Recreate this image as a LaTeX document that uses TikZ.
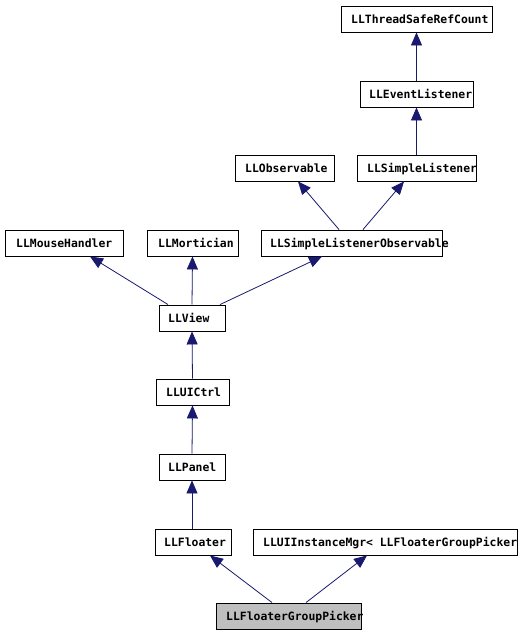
\documentclass[tikz,border=0pt]{standalone}
\usepackage{fontspec}
\newfontfamily\dxfont{DejaVu Sans Mono}
\usetikzlibrary{arrows.meta}
\definecolor{edgeblue}{HTML}{191970}
\definecolor{curgray}{HTML}{BFBFBF}
\begin{document}
\begin{tikzpicture}[x=1pt,y=-1pt,
  cls/.style={draw=black, line width=0.9pt, fill=white, minimum height=26pt, inner sep=0pt},
  cur/.style={cls, fill=curgray},
  lbl/.style={anchor=base west, inner sep=0pt, font=\dxfont\bfseries\fontsize{11.4}{13}\selectfont},
  inh/.style={draw=edgeblue, line width=0.8pt, -{Triangle[length=13pt,width=11pt]}, fill=none},
]
\useasboundingbox[fill=white] (0,0) rectangle (519,634);
% boxes
\node[cls, minimum width=151pt] (tsrc) at (416.5,19) {};
\node[cls, minimum width=113pt] (evl) at (416.5,94) {};
\node[cls, minimum width=99pt] (obs) at (284.5,168) {};
\node[cls, minimum width=119pt] (sl) at (416.5,168) {};
\node[cls, minimum width=118pt] (mh) at (64,243) {};
\node[cls, minimum width=91pt] (mort) at (192.5,243) {};
\node[cls, minimum width=181pt] (slo) at (351.5,243) {};
\node[cls, minimum width=66pt] (view) at (192,318) {};
\node[cls, minimum width=73pt] (uictrl) at (192.5,392) {};
\node[cls, minimum width=66pt] (panel) at (192,467) {};
\node[cls, minimum width=76pt] (floater) at (193,542) {};
\node[cls, minimum width=264pt] (mgr) at (385,542) {};
\node[cur, minimum width=145pt] (fgp) at (288.5,616) {};
% labels
\node[lbl] (tsrcT) at (351,23.5) {LLThreadSafeRefCount};
\node[lbl] (evlT) at (369,98.5) {LLEventListener};
\node[lbl] (obsT) at (245,172.5) {LLObservable};
\node[lbl] (slT) at (367,172.5) {LLSimpleListener};
\node[lbl] (mhT) at (16,247.5) {LLMouseHandler};
\node[lbl] (mortT) at (158,247.5) {LLMortician};
\node[lbl] (sloT) at (270,247.5) {LLSimpleListenerObservable};
\node[lbl] (viewT) at (168,322.5) {LLView};
\node[lbl] (uictrlT) at (166,396.5) {LLUICtrl};
\node[lbl] (panelT) at (168,471.5) {LLPanel};
\node[lbl] (floaterT) at (164,546.5) {LLFloater};
\node[lbl] (mgrT) at (263,546.5) {LLUIInstanceMgr< LLFloaterGroupPicker >};
\node[lbl] (fgpT) at (226,620.5) {LLFloaterGroupPicker};
% inheritance edges
\draw[inh] (evl.north) -- (tsrc.south);
\draw[inh] (sl.north) -- (evl.south);
\draw[inh] ([xshift=-12.5pt]slo.north) -- ([xshift=13.5pt]obs.south);
\draw[inh] ([xshift=11.5pt]slo.north) -- ([xshift=-12.5pt]sl.south);
\draw[inh] ([xshift=-24pt]view.north) -- ([xshift=26pt]mh.south);
\draw[inh] (view.north) -- (mort.south);
\draw[inh] ([xshift=28pt]view.north) -- ([xshift=-29.5pt]slo.south);
\draw[inh] (uictrl.north) -- (view.south);
\draw[inh] (panel.north) -- (uictrl.south);
\draw[inh] ([xshift=-1pt]floater.north) -- (panel.south);
\draw[inh] ([xshift=-16.5pt]fgp.north) -- ([xshift=17pt]floater.south);
\draw[inh] ([xshift=17.5pt]fgp.north) -- ([xshift=-18pt]mgr.south);
\end{tikzpicture}
\end{document}
